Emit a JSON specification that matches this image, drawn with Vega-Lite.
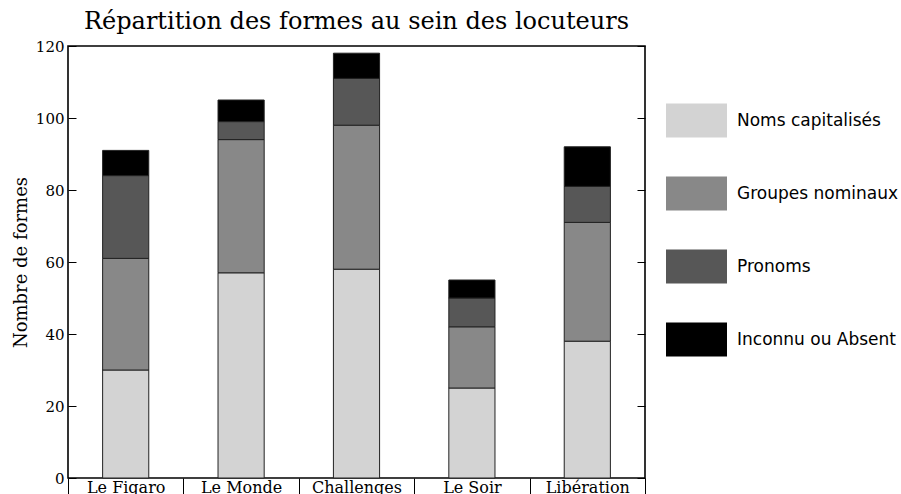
{
  "$schema": "https://vega.github.io/schema/vega-lite/v6.json",
  "width": 577,
  "height": 432,
  "autosize": {"type": "none"},
  "padding": {"left": 68, "top": 46, "right": 256, "bottom": 16},
  "background": "white",
  "config": {
    "view": {"stroke": "black", "strokeWidth": 1.6},
    "axis": {"labelColor": "black", "titleColor": "black", "tickColor": "black", "grid": false}
  },
  "title": {
    "text": "Répartition des formes au sein des locuteurs",
    "font": "DejaVu Serif",
    "fontSize": 24,
    "fontWeight": "normal",
    "color": "black",
    "offset": 5
  },
  "data": {
    "values": [
      {"journal": "Le Figaro", "forme": "Noms capitalisés", "valeur": 30, "rang": 1},
      {"journal": "Le Figaro", "forme": "Groupes nominaux", "valeur": 31, "rang": 2},
      {"journal": "Le Figaro", "forme": "Pronoms", "valeur": 23, "rang": 3},
      {"journal": "Le Figaro", "forme": "Inconnu ou Absent", "valeur": 7, "rang": 4},
      {"journal": "Le Monde", "forme": "Noms capitalisés", "valeur": 57, "rang": 1},
      {"journal": "Le Monde", "forme": "Groupes nominaux", "valeur": 37, "rang": 2},
      {"journal": "Le Monde", "forme": "Pronoms", "valeur": 5, "rang": 3},
      {"journal": "Le Monde", "forme": "Inconnu ou Absent", "valeur": 6, "rang": 4},
      {"journal": "Challenges", "forme": "Noms capitalisés", "valeur": 58, "rang": 1},
      {"journal": "Challenges", "forme": "Groupes nominaux", "valeur": 40, "rang": 2},
      {"journal": "Challenges", "forme": "Pronoms", "valeur": 13, "rang": 3},
      {"journal": "Challenges", "forme": "Inconnu ou Absent", "valeur": 7, "rang": 4},
      {"journal": "Le Soir", "forme": "Noms capitalisés", "valeur": 25, "rang": 1},
      {"journal": "Le Soir", "forme": "Groupes nominaux", "valeur": 17, "rang": 2},
      {"journal": "Le Soir", "forme": "Pronoms", "valeur": 8, "rang": 3},
      {"journal": "Le Soir", "forme": "Inconnu ou Absent", "valeur": 5, "rang": 4},
      {"journal": "Libération", "forme": "Noms capitalisés", "valeur": 38, "rang": 1},
      {"journal": "Libération", "forme": "Groupes nominaux", "valeur": 33, "rang": 2},
      {"journal": "Libération", "forme": "Pronoms", "valeur": 10, "rang": 3},
      {"journal": "Libération", "forme": "Inconnu ou Absent", "valeur": 11, "rang": 4}
    ]
  },
  "encoding": {
    "x": {
      "field": "journal",
      "type": "nominal",
      "sort": ["Le Figaro", "Le Monde", "Challenges", "Le Soir", "Libération"],
      "scale": {"paddingInner": 0, "paddingOuter": 0},
      "axis": {
        "title": null,
        "labelAngle": 0,
        "tickBand": "extent",
        "tickSize": 18,
        "tickWidth": 1,
        "labelPadding": -17,
        "labelBaseline": "top",
        "labelFont": "DejaVu Serif",
        "labelFontSize": 16,
        "domain": false
      }
    }
  },
  "layer": [
    {
      "mark": {"type": "bar", "width": {"band": 0.4}, "stroke": "#222222", "strokeWidth": 1},
      "encoding": {
        "y": {
          "field": "valeur",
          "type": "quantitative",
          "stack": "zero",
          "scale": {"domain": [0, 120], "nice": false},
          "axis": {
            "title": "Nombre de formes",
            "titleFont": "DejaVu Serif",
            "titleFontSize": 18,
            "titleFontWeight": "normal",
            "titlePadding": 5,
            "values": [0, 20, 40, 60, 80, 100, 120],
            "tickSize": -8,
            "tickWidth": 1,
            "labelPadding": 12,
            "labelFont": "DejaVu Serif",
            "labelFontSize": 15,
            "domain": false
          }
        },
        "color": {
          "field": "forme",
          "type": "nominal",
          "scale": {
            "domain": ["Noms capitalisés", "Groupes nominaux", "Pronoms", "Inconnu ou Absent"],
            "range": ["#d3d3d3", "#888888", "#575757", "#000000"]
          },
          "legend": {
            "title": null,
            "orient": "none",
            "legendX": 598,
            "legendY": 44,
            "padding": 0,
            "symbolType": "M-1,-0.56H1V0.56H-1Z",
            "symbolSize": 3721,
            "symbolStrokeWidth": 0,
            "symbolOpacity": 1,
            "rowPadding": 25,
            "labelOffset": 10,
            "labelFont": "DejaVu Sans",
            "labelFontSize": 17,
            "labelColor": "black",
            "labelLimit": 300
          }
        },
        "order": {"field": "rang", "type": "quantitative", "sort": "ascending"}
      }
    },
    {
      "mark": {"type": "rule", "opacity": 0},
      "encoding": {
        "y": {
          "field": "valeur",
          "type": "quantitative",
          "axis": {
            "orient": "right",
            "title": null,
            "labels": false,
            "values": [0, 20, 40, 60, 80, 100, 120],
            "tickSize": -8,
            "tickWidth": 1,
            "domain": false
          }
        }
      }
    }
  ],
  "resolve": {"axis": {"y": "independent"}}
}
